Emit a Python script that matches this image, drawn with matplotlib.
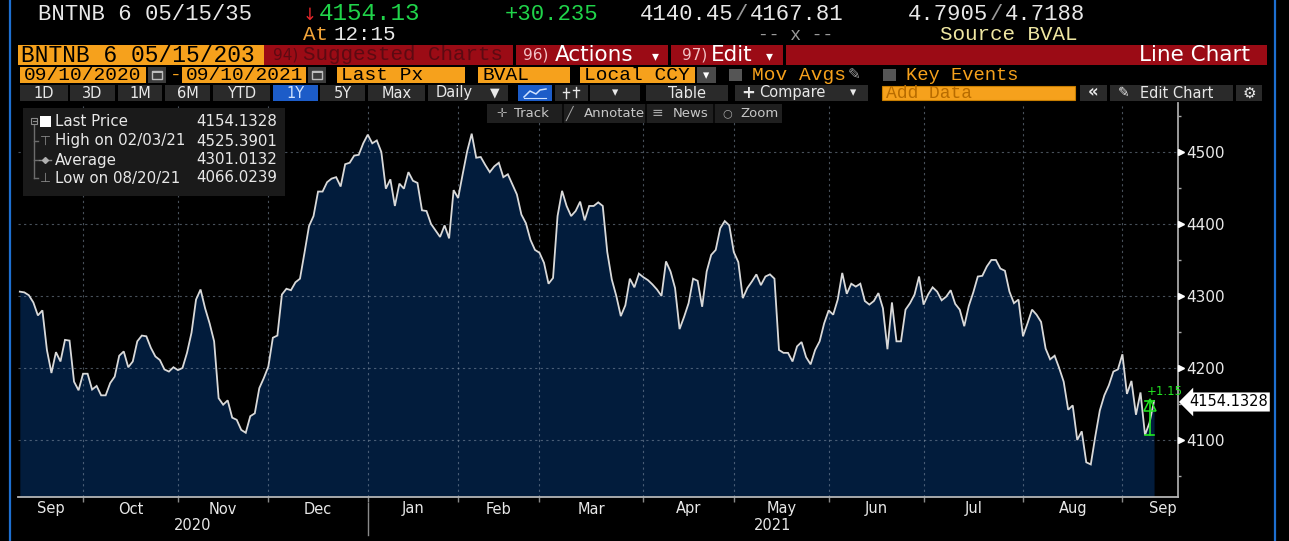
import numpy as np
import pandas as pd
import matplotlib
matplotlib.use("Agg")
import matplotlib.pyplot as plt
import matplotlib.transforms as mtransforms
from matplotlib.patches import Rectangle
from matplotlib import font_manager as fm

# ---------------- data ----------------
security = "BNTNB 6 05/15/35"
security_box = "BNTNB 6 05/15/203"
start_date = "2020-09-10"
end_date = "2021-09-10"
anbima_holidays = ["2020-10-12", "2020-11-02", "2020-12-25", "2021-01-01",
                   "2021-02-15", "2021-02-16", "2021-04-02", "2021-04-21",
                   "2021-06-03", "2021-09-07"]

sep20 = [4306, 4305, 4301, 4291, 4273, 4280, 4225, 4193, 4222, 4209, 4239, 4238, 4181, 4169, 4192]
oct20 = [4192, 4170, 4175, 4162, 4162, 4179, 4188, 4217, 4223, 4201, 4209, 4237, 4245, 4244, 4228,
         4216, 4211, 4198, 4195, 4201, 4197]
nov20 = [4200, 4221, 4249, 4295, 4309, 4283, 4262, 4237, 4158, 4149, 4155, 4131, 4128, 4114, 4110,
         4133, 4137, 4172, 4186, 4202]
dec20 = [4242, 4245, 4302, 4310, 4308, 4319, 4324, 4360, 4397, 4411, 4445, 4445, 4458, 4463, 4465,
         4452, 4483, 4485, 4495, 4496, 4512, 4524]
jan21 = [4512, 4516, 4500, 4449, 4462, 4425, 4456, 4449, 4472, 4460, 4457, 4419, 4418, 4400, 4391,
         4382, 4398, 4380, 4447, 4436]
feb21 = [4469, 4501, 4525.3901, 4492, 4493, 4482, 4472, 4480, 4485, 4465, 4469, 4455, 4441, 4413,
         4401, 4378, 4364, 4360]
mar21 = [4346, 4317, 4325, 4411, 4446, 4425, 4411, 4418, 4431, 4405, 4425, 4425, 4430, 4425, 4361,
         4323, 4300, 4272, 4287, 4324, 4312, 4331, 4326]
apr21 = [4322, 4316, 4309, 4300, 4348, 4334, 4311, 4254, 4271, 4290, 4324, 4321, 4285, 4334, 4357,
         4364, 4394, 4404, 4398, 4361]
may21 = [4347, 4297, 4311, 4320, 4330, 4315, 4327, 4330, 4324, 4225, 4221, 4221, 4209, 4230, 4236,
         4215, 4205, 4225, 4237, 4262, 4280]
jun21 = [4274, 4295, 4332, 4303, 4317, 4313, 4317, 4293, 4288, 4293, 4304, 4283, 4226, 4291, 4237,
         4237, 4281, 4290, 4302, 4327, 4288]
jul21 = [4302, 4312, 4306, 4294, 4299, 4308, 4289, 4281, 4258, 4286, 4305, 4327, 4328, 4341, 4350,
         4350, 4338, 4335, 4306, 4290, 4295, 4244]
aug21 = [4262, 4281, 4274, 4264, 4227, 4212, 4217, 4200, 4181, 4142, 4148, 4100, 4112, 4069,
         4066.0239, 4105, 4141, 4162, 4176, 4195, 4198, 4219]
sep21 = [4164, 4182, 4135, 4166, 4107, 4124, 4154.1328]

prices = sep20 + oct20 + nov20 + dec20 + jan21 + feb21 + mar21 + apr21 + may21 + jun21 + jul21 + aug21 + sep21

y_major = [4100, 4200, 4300, 4400, 4500]
y_minor = [4050, 4150, 4250, 4350, 4450, 4550]

last_price = 4154.1328
high_price, high_date = 4525.3901, "02/03/21"
avg_price = 4301.0132
low_price, low_date = 4066.0239, "08/20/21"
last_change_pct = "+1.15"

hdr_last, hdr_chg, hdr_time = "4154.13", "+30.235", "12:15"
hdr_bid, hdr_ask = "4140.45", "4167.81"
hdr_ybid, hdr_yask = "4.7905", "4.7188"
range_from, range_to = "09/10/2020", "09/10/2021"
period_buttons = ["1D", "3D", "1M", "6M", "YTD", "1Y", "5Y", "Max"]

# ---------------- setup ----------------
W, H, DPI = 1289, 541, 100
names = {f.name for f in fm.fontManager.ttflist}
MONO = "Liberation Mono" if "Liberation Mono" in names else "DejaVu Sans Mono"
SANS = "DejaVu Sans"
NARROW = "Liberation Sans Narrow" if "Liberation Sans Narrow" in names else "DejaVu Sans"

ORANGE = "#f6a11c"
RED = "#9b0b15"
BTN = "#2a2a2a"
FILL = "#021c3c"
LINE = "#d9d9d9"
GREEN = "#20d44a"
WHITE = "#e8e8e8"

fig = plt.figure(figsize=(W / DPI, H / DPI), dpi=DPI, facecolor="black")

ax_l, ax_r, ax_t, ax_b = 18, 1178, 103, 497
ax = fig.add_axes([ax_l / W, 1 - ax_b / H, (ax_r - ax_l) / W, (ax_b - ax_t) / H])
ax.set_facecolor("black")

n = len(prices)
dates = pd.bdate_range(start_date, end_date, freq="C", holidays=anbima_holidays)[:n]
xpos = np.arange(n)

x_left, x_right = -0.4, n - 1 + 5.3
y_lo, y_hi = 4020.8, 4568.0
ax.set_xlim(x_left, x_right)
ax.set_ylim(y_lo, y_hi)

ax.fill_between(xpos, prices, y_lo, color=FILL, lw=0, zorder=1)
ax.plot(xpos, prices, color=LINE, lw=1.3, zorder=3, solid_joinstyle="miter")

# month boundaries
months = np.asarray(dates.month)
new_month = np.flatnonzero(months[1:] != months[:-1]) + 1
grid_pos = new_month - 1
grid_kw = dict(color="#8494a6", alpha=0.55, lw=0.8, ls=(0, (2, 3)), zorder=2)
for g in grid_pos:
    ax.axvline(g, **grid_kw)
for yv in y_major:
    ax.axhline(yv, **grid_kw)

# spines / ticks
for s in ["top", "left"]:
    ax.spines[s].set_visible(False)
ax.spines["bottom"].set_color("#b4b4b4")
ax.spines["bottom"].set_linewidth(1.3)
ax.spines["right"].set_color("#a8a8a8")
ax.spines["right"].set_linewidth(1.3)

ax.set_xticks(grid_pos)
ax.set_xticklabels([])
ax.tick_params(axis="x", which="major", length=3.5, width=1, color="#8a8a8a", direction="out")

ax.yaxis.tick_right()
ax.set_yticks(y_major)
ax.set_yticklabels([str(v) for v in y_major])
ax.set_yticks(y_minor, minor=True)
ax.tick_params(axis="y", which="major", length=0, pad=6, labelsize=11, labelcolor=WHITE)
ax.tick_params(axis="y", which="minor", length=2.5, width=1, color="#a8a8a8", direction="out")
for lab in ax.get_yticklabels():
    lab.set_family(SANS)
ax.plot([1.0026] * len(y_major), y_major, transform=ax.get_yaxis_transform(), ls="none",
        marker=">", ms=5, color="white", clip_on=False, zorder=6)

# month labels
xtr = mtransforms.blended_transform_factory(ax.transData, ax.transAxes)
bounds = [x_left] + list(grid_pos) + [x_right]
seg_names = [dates[0].strftime("%b")] + [dates[i].strftime("%b") for i in new_month]
for k, name in enumerate(seg_names):
    if k == len(seg_names) - 1:
        cx, ha = x_right - 0.4, "right"
    else:
        cx, ha = (bounds[k] + bounds[k + 1]) / 2, "center"
    ax.annotate(name, xy=(cx, 0), xycoords=xtr, xytext=(0, -12), textcoords="offset pixels",
                ha=ha, va="center", color=WHITE, fontsize=10.5, family=NARROW, annotation_clip=False)

# year labels
years = np.asarray(dates.year)
jan_idx = [i for i in new_month if months[i] == 1][0]
year_bounds = [x_left, jan_idx - 1, x_right]
for k, yr in enumerate([years[0], years[-1]]):
    cx = (year_bounds[k] + year_bounds[k + 1]) / 2
    ax.annotate(str(yr), xy=(cx, 0), xycoords=xtr, xytext=(0, -29), textcoords="offset pixels",
                ha="center", va="center", color=WHITE, fontsize=10.5, family=NARROW, annotation_clip=False)
ax.plot([jan_idx - 1] * 2, [-0.016, -0.097], transform=xtr, color="#8a8a8a", lw=1, clip_on=False)

# last price tag
ax.annotate(f"{last_price:.4f}", xy=(1, last_price), xycoords=ax.get_yaxis_transform(),
            xytext=(11, -1), textcoords="offset pixels", ha="left", va="center", fontsize=10.5,
            color="black", family=SANS,
            bbox=dict(boxstyle="larrow,pad=0.14", fc="white", ec="none"), annotation_clip=False)

# change marker
xm = n - 2
ax.plot([xm, xm], [prices[-3], prices[-1]], color="#22e622", lw=1.2, zorder=6)
ax.plot([xm - 0.9, xm + 0.9], [prices[-3]] * 2, color="#22e622", lw=1.2, zorder=6)
ax.plot([xm - 0.9, xm + 0.9], [prices[-1]] * 2, color="#22e622", lw=1.2, zorder=6)
ax.plot([xm], [prices[-1] - 6], marker="^", ms=8, mfc="none", mec="#22e622", mew=1.1, zorder=6)
ax.annotate(last_change_pct, xy=(xm, prices[-1]), xytext=(-3, 9), textcoords="offset pixels",
            ha="left", va="center", fontsize=8.5, color="#22e622", family=SANS, annotation_clip=False)

# ---------------- overlay (terminal chrome) ----------------
ov = fig.add_axes([0, 0, 1, 1], zorder=10)
ov.set_xlim(0, W)
ov.set_ylim(H, 0)
ov.axis("off")
ov.patch.set_alpha(0)


def R(x0, y0, x1, y1, fc, ec="none", lw=0, z=2):
    ov.add_patch(Rectangle((x0, y0), x1 - x0, y1 - y0, facecolor=fc, edgecolor=ec, lw=lw, zorder=z))


def T(x, y, s, color=WHITE, size=10.5, family=SANS, ha="left", z=5, weight="normal"):
    ov.text(x, y, s, color=color, fontsize=size, family=family, ha=ha, va="center", zorder=z,
            fontweight=weight)


# window borders
ov.plot([10, 10], [0, H], color="#1e6fd0", lw=1.6)
ov.plot([1275, 1275], [0, H], color="#1e6fd0", lw=1.6)

# row 1 and row 2
T(38, 14, security, WHITE, 16, MONO)
T(303, 15, "\u2193", "#e8262b", 12, SANS)
T(319, 14, hdr_last, GREEN, 17.5, MONO)
T(505, 14, hdr_chg, GREEN, 16, MONO)
T(640, 14, hdr_bid, WHITE, 16, MONO)
T(735, 14, "/", "#9a9a9a", 16, MONO)
T(750, 14, hdr_ask, WHITE, 16, MONO)
T(908, 14, hdr_ybid, WHITE, 16, MONO)
T(990, 14, "/", "#9a9a9a", 16, MONO)
T(1005, 14, hdr_yask, WHITE, 16, MONO)
T(303, 35, "At", "#f2a53a", 15, MONO)
T(333, 35, hdr_time, WHITE, 15, MONO)
T(758, 36, "-- x --", "#9a9a9a", 13, MONO)
T(940, 35, "Source BVAL", "#efe7a2", 15, MONO)

# row 3
R(18, 45, 264, 65, ORANGE, z=2)
T(21, 55.5, security_box, "black", 16.5, MONO, z=3)
R(264, 45, 1267, 65, RED, z=4)
for sx in [513, 668, 783]:
    R(sx, 45, sx + 3, 65, "black", z=5)
T(273, 55, "94)", "#5c0a12", 11, SANS, z=6)
T(303, 55, "Suggested Charts", "#5c0a12", 15, MONO, z=6)
T(523, 55, "96)", "#f3c3c6", 11, SANS, z=6)
T(555, 55, "Actions", "white", 15.5, SANS, z=6)
T(652, 56, "\u25be", "white", 10, SANS, z=6)
T(682, 55, "97)", "#f3c3c6", 11, SANS, z=6)
T(711, 55, "Edit", "white", 15.5, SANS, z=6)
T(766, 56, "\u25be", "white", 10, SANS, z=6)
T(1250, 55, "Line Chart", "white", 15.5, SANS, ha="right", z=6)

# row 4
def cal_icon(x0):
    R(x0, 67, x0 + 18, 83, "#3c3c3c", z=2)
    R(x0 + 4, 71, x0 + 14, 79, "none", ec="#bdbdbd", lw=1, z=3)
    R(x0 + 4, 71, x0 + 14, 73, "#bdbdbd", z=3)

R(20, 67, 146, 83, ORANGE)
T(24, 75.5, range_from, "black", 14, MONO)
cal_icon(148)
T(170, 75, "-", ORANGE, 14, MONO)
R(182, 67, 306, 83, ORANGE)
T(186, 75.5, range_to, "black", 14, MONO)
cal_icon(308)
R(337, 67, 465, 83, ORANGE)
T(341, 75.5, "Last Px", "black", 14, MONO)
R(478, 67, 570, 83, ORANGE)
T(482, 75.5, "BVAL", "black", 14, MONO)
R(580, 67, 695, 83, ORANGE)
T(584, 75.5, "Local CCY", "black", 14, MONO)
R(697, 67, 716, 83, "#4a4a4a")
T(706.5, 75.5, "\u25be", "white", 9, SANS, ha="center")
R(729, 69, 742, 81, "#555555")
T(752, 75.5, "Mov Avgs", ORANGE, 14, MONO)
T(848, 75, "\u270e", "#a0a0a0", 11, SANS)
R(883, 69, 896, 81, "#555555")
T(906, 75.5, "Key Events", ORANGE, 13.5, MONO)

# row 5
btn_x = [(20, 68), (70, 115), (118, 162), (165, 210), (213, 270), (273, 318), (320, 365), (368, 425)]
for (x0, x1), lab in zip(btn_x, period_buttons):
    active = lab == "1Y"
    R(x0, 85, x1, 101, "#1c5cc8" if active else BTN)
    T((x0 + x1) / 2, 93, lab, "#cfe2ff" if active else WHITE, 10.5, SANS, ha="center")
R(428, 85, 508, 101, BTN)
T(436, 93, "Daily", WHITE, 10.5, SANS)
T(490, 93, "\u25bc", WHITE, 9, SANS)
R(518, 85, 552, 101, "#1c5cc8")
ov.plot([524, 530, 536, 540, 546], [97, 91, 94, 90, 89], color="#cfe2ff", lw=1.1, zorder=6)
ov.plot([524, 546], [98, 98], color="#cfe2ff", lw=0.8, zorder=6)
R(555, 85, 588, 101, BTN)
ov.plot([566, 566], [88, 98], color=WHITE, lw=1, zorder=6)
ov.plot([576, 576], [87, 97], color=WHITE, lw=1, zorder=6)
ov.plot([563, 569], [92, 92], color=WHITE, lw=1, zorder=6)
ov.plot([573, 579], [90, 90], color=WHITE, lw=1, zorder=6)
R(590, 85, 640, 101, BTN)
T(615, 93, "\u25be", WHITE, 9, SANS, ha="center")
R(646, 85, 728, 101, BTN)
T(687, 93, "Table", WHITE, 10.5, SANS, ha="center")
R(735, 85, 868, 101, BTN)
T(741, 92.5, "+", WHITE, 12, SANS, weight="bold")
T(759, 93, "Compare", WHITE, 10.5, SANS)
T(850, 93, "\u25be", WHITE, 9, SANS)
R(882, 86, 1075, 100, ORANGE, ec="#c77d00", lw=0.8)
T(886, 93.5, "Add Data", "#b86c00", 13, MONO)
R(1080, 85, 1107, 101, BTN)
T(1093.5, 92.5, "\u00ab", WHITE, 12, SANS, ha="center", weight="bold")
R(1110, 85, 1233, 101, BTN)
T(1118, 93, "\u270e", WHITE, 10, SANS)
T(1140, 93, "Edit Chart", WHITE, 10.5, SANS)
R(1236, 85, 1262, 101, BTN)
T(1249, 93, "\u2699", WHITE, 11, SANS, ha="center")

# chart toolbar
R(487, 104, 782, 123, "#1f1f1f", z=2)
for sx in [562, 645, 713]:
    R(sx, 104, sx + 1.5, 123, "#0a0a0a", z=3)
T(496, 113.5, "\u271b", "#a8a8a8", 9, SANS)
T(514, 113.5, "Track", "#c8c8c8", 9.5, SANS)
T(566, 113.5, "\u2571", "#a8a8a8", 9, SANS)
T(584, 113.5, "Annotate", "#c8c8c8", 9.5, SANS)
T(652, 113.5, "\u2261", "#a8a8a8", 10, SANS)
T(673, 113.5, "News", "#c8c8c8", 9.5, SANS)
T(722, 113.5, "\u25cb", "#a8a8a8", 8, SANS)
T(740, 113.5, "Zoom", "#c8c8c8", 9.5, SANS)

# legend box
R(23, 108, 285, 196, "#1a1a1a", z=2)
ov.plot([34, 34], [124, 178], color="#6c6c6c", lw=1, zorder=3)
for yy in [141, 160, 178]:
    ov.plot([34, 38], [yy, yy], color="#6c6c6c", lw=1, zorder=3)
R(31, 118, 37, 124, "#1a1a1a", ec="#8a8a8a", lw=0.8, z=4)
ov.plot([32.5, 35.5], [121, 121], color="#8a8a8a", lw=0.8, zorder=5)
R(40, 116, 51, 127, "white", z=4)
T(45.5, 141, "\u22a4", "#8a8a8a", 9, SANS, ha="center")
ov.plot([39, 51], [160, 160], color="#8a8a8a", lw=1, zorder=4)
ov.plot([45], [160], marker="D", ms=3, color="#b0b0b0", zorder=5)
T(45.5, 178, "\u22a5", "#8a8a8a", 9, SANS, ha="center")
legend_rows = [("Last Price", last_price), (f"High on {high_date}", high_price),
               ("Average", avg_price), (f"Low on {low_date}", low_price)]
for (lab, val), yy in zip(legend_rows, [122, 141, 160, 178]):
    T(55, yy, lab, WHITE, 10.8, SANS)
    T(277, yy, f"{val:.4f}", WHITE, 10.8, SANS, ha="right")

fig.savefig("out.png", dpi=DPI, facecolor="black")
